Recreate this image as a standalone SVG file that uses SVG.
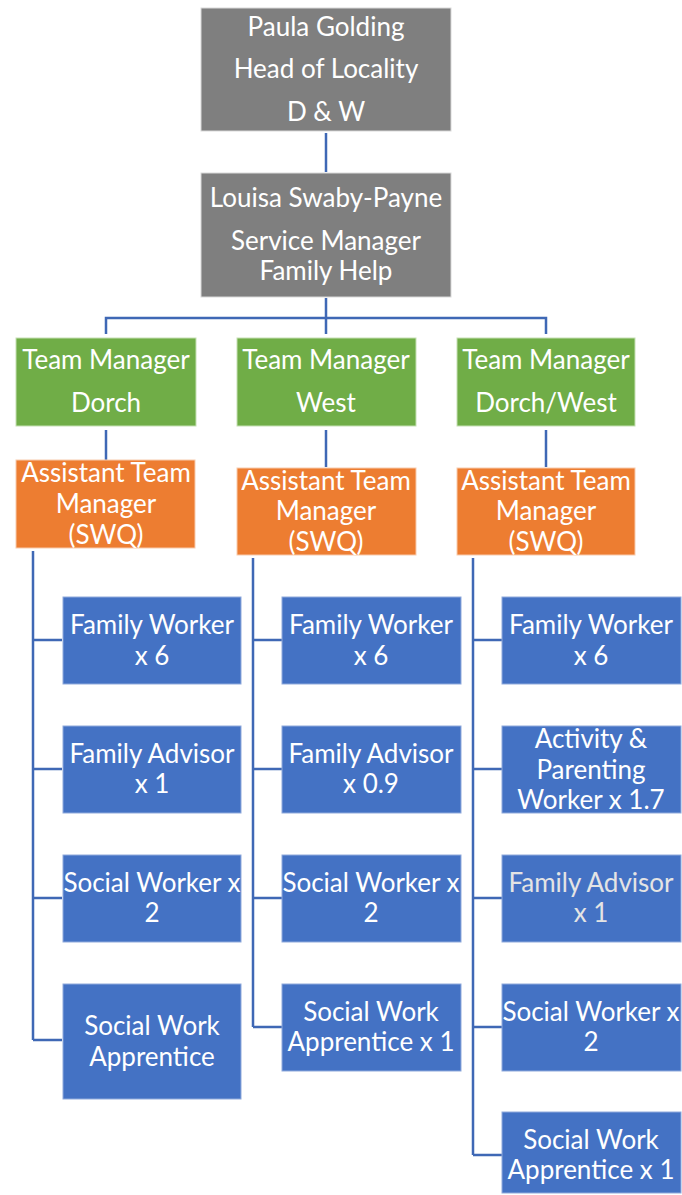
<svg xmlns="http://www.w3.org/2000/svg" width="682" height="1195" viewBox="0 0 682 1195">
<style>
.t{font-family:Lato,"Open Sans","Liberation Sans",sans-serif;font-size:26px;fill:#ffffff;text-anchor:middle;dominant-baseline:central}
.gray{fill:#7f7f7f;stroke:#d9d9d9;stroke-width:1}
.green{fill:#70ad47;stroke:#c5e0b4;stroke-width:1}
.orange{fill:#ed7d31;stroke:#f8cbad;stroke-width:1}
.blue{fill:#4472c4;stroke:#8faadc;stroke-width:1}
.c{fill:none;stroke:#3f68b5;stroke-width:2.5}
</style>
<rect width="682" height="1195" fill="#ffffff"/>
<g id="connectors">
<path class="c" d="M326 133V172"/>
<path class="c" d="M326 298V334M106 334V318H546V334"/>
<path class="c" d="M106 430V460"/>
<path class="c" d="M326 430V467"/>
<path class="c" d="M546 430V467"/>
<path class="c" d="M33 551V1040M33 640H62M33 769H62M33 898H62M33 1040H62"/>
<path class="c" d="M253 558V1027M253 640H282M253 769H282M253 898H282M253 1027H282"/>
<path class="c" d="M473 558V1155M473 640H502M473 769H502M473 898H502M473 1027H502M473 1155H502"/>
</g>
<g id="n-head"><rect class="gray" x="201" y="8" width="250" height="123"/>
<text class="t" x="326" y="26">Paula Golding</text><text class="t" x="326" y="68">Head of Locality</text><text class="t" x="326" y="111">D &amp; W</text></g>
<g id="n-service"><rect class="gray" x="201" y="173" width="250" height="124"/>
<text class="t" x="326" y="197">Louisa Swaby-Payne</text><text class="t" x="326" y="240">Service Manager</text><text class="t" x="326" y="270">Family Help</text></g>
<g id="n-tm-dorch"><rect class="green" x="16" y="338" width="180" height="88"/>
<text class="t" x="106" y="359">Team Manager</text><text class="t" x="106" y="402">Dorch</text></g>
<g id="n-tm-west"><rect class="green" x="237" y="338" width="179" height="88"/>
<text class="t" x="326" y="359">Team Manager</text><text class="t" x="326" y="402">West</text></g>
<g id="n-tm-dw"><rect class="green" x="457" y="338" width="178" height="88"/>
<text class="t" x="546" y="359">Team Manager</text><text class="t" x="546" y="402">Dorch/West</text></g>
<g id="n-atm-dorch"><rect class="orange" x="16" y="460" width="179" height="88"/>
<text class="t" x="106" y="472">Assistant Team</text><text class="t" x="106" y="503">Manager</text><text class="t" x="106" y="534">(SWQ)</text></g>
<g id="n-atm-west"><rect class="orange" x="237" y="468" width="179" height="87"/>
<text class="t" x="326" y="480">Assistant Team</text><text class="t" x="326" y="510">Manager</text><text class="t" x="326" y="541">(SWQ)</text></g>
<g id="n-atm-dw"><rect class="orange" x="457" y="468" width="178" height="87"/>
<text class="t" x="546" y="480">Assistant Team</text><text class="t" x="546" y="510">Manager</text><text class="t" x="546" y="541">(SWQ)</text></g>
<g id="n-d-fw"><rect class="blue" x="63" y="597" width="178" height="87"/>
<text class="t" x="152" y="624">Family Worker</text><text class="t" x="152" y="655">x 6</text></g>
<g id="n-d-fa"><rect class="blue" x="63" y="726" width="178" height="87"/>
<text class="t" x="152" y="753">Family Advisor</text><text class="t" x="152" y="783">x 1</text></g>
<g id="n-d-sw"><rect class="blue" x="63" y="855" width="178" height="87"/>
<text class="t" x="152" y="882">Social Worker x</text><text class="t" x="152" y="912">2</text></g>
<g id="n-d-swa"><rect class="blue" x="63" y="984" width="178" height="115"/>
<text class="t" x="152" y="1025">Social Work</text><text class="t" x="152" y="1056">Apprentice</text></g>
<g id="n-w-fw"><rect class="blue" x="282" y="597" width="179" height="87"/>
<text class="t" x="371" y="624">Family Worker</text><text class="t" x="371" y="655">x 6</text></g>
<g id="n-w-fa"><rect class="blue" x="282" y="726" width="179" height="87"/>
<text class="t" x="371" y="753">Family Advisor</text><text class="t" x="371" y="783">x 0.9</text></g>
<g id="n-w-sw"><rect class="blue" x="282" y="855" width="179" height="87"/>
<text class="t" x="371" y="882">Social Worker x</text><text class="t" x="371" y="912">2</text></g>
<g id="n-w-swa"><rect class="blue" x="282" y="984" width="179" height="87"/>
<text class="t" x="371" y="1011">Social Work</text><text class="t" x="371" y="1041">Apprentice x 1</text></g>
<g id="n-dw-fw"><rect class="blue" x="502" y="597" width="179" height="87"/>
<text class="t" x="591" y="624">Family Worker</text><text class="t" x="591" y="655">x 6</text></g>
<g id="n-dw-ap"><rect class="blue" x="502" y="726" width="179" height="87"/>
<text class="t" x="591" y="738">Activity &amp;</text><text class="t" x="591" y="769">Parenting</text><text class="t" x="591" y="799">Worker x 1.7</text></g>
<g id="n-dw-fa"><rect class="blue" x="502" y="855" width="179" height="87"/>
<text class="t" x="591" y="882" style="fill:#e4e4e4">Family Advisor</text><text class="t" x="591" y="912" style="fill:#e4e4e4">x 1</text></g>
<g id="n-dw-sw"><rect class="blue" x="502" y="984" width="179" height="87"/>
<text class="t" x="591" y="1011">Social Worker x</text><text class="t" x="591" y="1041">2</text></g>
<g id="n-dw-swa"><rect class="blue" x="502" y="1112" width="179" height="81"/>
<text class="t" x="591" y="1139">Social Work</text><text class="t" x="591" y="1169">Apprentice x 1</text></g>
</svg>
